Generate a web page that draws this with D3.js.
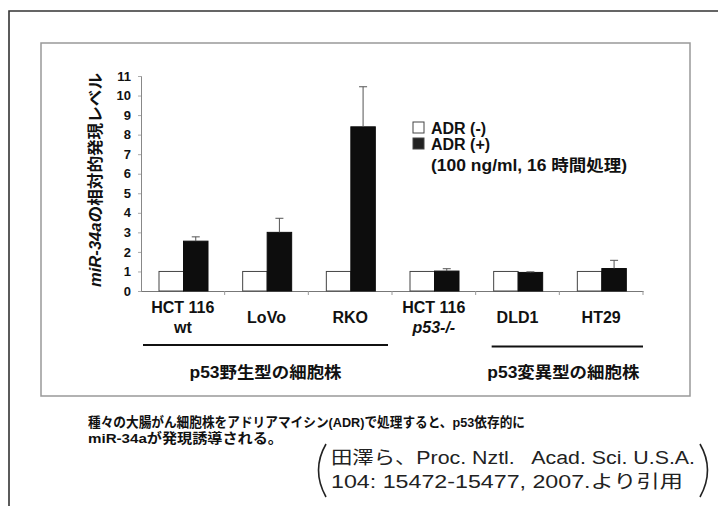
<!DOCTYPE html>
<html>
<head>
<meta charset="utf-8">
<script src="https://cdn.jsdelivr.net/npm/d3@7"></script>
<style>
  body { margin: 0; background: #fff; }
  text { font-family: "Liberation Sans", Arial, "Noto Sans CJK JP", sans-serif; }
</style>
</head>
<body>
<div id="chart"></div>
<script>
// cell lines (two-line labels) and the two treatment series
var labelTop = ["HCT 116", "LoVo", "RKO", "HCT 116", "DLD1", "HT29"];
var labelBottom = ["wt", "", "", "p53-/-", "", ""];
var series = ["ADR (-)", "ADR (+)"];
var adrMinus = [1, 1, 1, 1, 1, 1];
var adrPlus = [2.55, 3.0, 8.4, 1.02, 0.95, 1.15];
var adrPlusErr = [0.22, 0.72, 2.05, 0.12, 0.03, 0.42];
var yTicks = [0, 1, 2, 3, 4, 5, 6, 7, 8, 9, 10, 11];
var groupNames = ["p53野生型の細胞株", "p53変異型の細胞株"];
var groupFrom = [0, 4], groupTo = [2, 5];

var W = 718, H = 506;
var svg = d3.select("#chart").append("svg").attr("width", W).attr("height", H);

// frames
svg.append("path").attr("d", "M9,506V11H718").attr("fill", "none")
    .attr("stroke", "#333").attr("stroke-width", 1.6);
svg.append("rect").attr("x", 41).attr("y", 43).attr("width", 649).attr("height", 353)
    .attr("fill", "none").attr("stroke", "#999").attr("stroke-width", 1.5);

var x = d3.scaleBand().domain(d3.range(labelTop.length)).range([141, 643]);
var xs = d3.scaleBand().domain(series).range([18, 67]);
var y = d3.scaleLinear().domain([0, 11]).range([291, 76]);

var rows = labelTop.map(function(d, i) {
  return {i: i, vals: [adrMinus[i], adrPlus[i]], err: [0, adrPlusErr[i]]};
});

// axes
var yAxis = svg.append("g").attr("transform", "translate(141,0)")
    .call(d3.axisLeft(y).tickValues(yTicks).tickSize(3).tickPadding(7));
yAxis.select(".domain").attr("stroke", "#888");
yAxis.selectAll(".tick line").attr("stroke", "#aaa");
yAxis.selectAll(".tick text").attr("font-size", 13).attr("font-weight", "bold")
    .attr("fill", "#111").style("font-family", "'Liberation Sans', Arial, sans-serif");

var xAxis = svg.append("g").attr("transform", "translate(0,291)")
    .call(d3.axisBottom(x).tickValues([]).tickSizeOuter(0));
xAxis.select(".domain").attr("stroke", "#777").attr("stroke-width", 1.2);
xAxis.selectAll(".sep").data(d3.range(1, labelTop.length + 1)).enter().append("line")
    .attr("x1", function(d) { return x(d - 1) + x.bandwidth(); })
    .attr("x2", function(d) { return x(d - 1) + x.bandwidth(); })
    .attr("y1", 0).attr("y2", 4).attr("stroke", "#999");

// bars
var grp = svg.append("g").selectAll("g").data(rows).enter().append("g")
    .attr("transform", function(d) { return "translate(" + x(d.i) + ",0)"; });

grp.selectAll("rect").data(function(d) {
  return d.vals.map(function(v, k) { return {k: k, v: v, e: d.err[k]}; });
}).enter().append("rect")
    .attr("x", function(d) { return xs(series[d.k]); })
    .attr("y", function(d) { return y(d.v); })
    .attr("width", xs.bandwidth())
    .attr("height", function(d) { return y(0) - y(d.v); })
    .attr("fill", function(d) { return d.k ? "#0d0d0d" : "#fff"; })
    .attr("stroke", function(d) { return d.k ? "#0d0d0d" : "#444"; })
    .attr("stroke-width", 1);

// error bars on ADR(+)
var eb = grp.append("g").attr("stroke", "#555").attr("stroke-width", 1);
eb.append("line")
    .attr("x1", xs("ADR (+)") + xs.bandwidth() / 2).attr("x2", xs("ADR (+)") + xs.bandwidth() / 2)
    .attr("y1", function(d) { return y(d.vals[1]); })
    .attr("y2", function(d) { return y(d.vals[1] + d.err[1]); });
eb.append("line")
    .attr("x1", xs("ADR (+)") + xs.bandwidth() / 2 - 4).attr("x2", xs("ADR (+)") + xs.bandwidth() / 2 + 4)
    .attr("y1", function(d) { return y(d.vals[1] + d.err[1]); })
    .attr("y2", function(d) { return y(d.vals[1] + d.err[1]); });

// category labels
var cat = svg.append("g").attr("font-size", 16).attr("font-weight", "bold")
    .attr("text-anchor", "middle").attr("fill", "#111");
cat.selectAll(".l1").data(rows).enter().append("text")
    .attr("x", function(d) { return x(d.i) + x.bandwidth() / 2; })
    .attr("y", function(d) { return labelBottom[d.i] ? 313 : 323; })
    .text(function(d) { return labelTop[d.i]; });
cat.selectAll(".l2").data(rows.filter(function(d) { return labelBottom[d.i]; })).enter().append("text")
    .attr("x", function(d) { return x(d.i) + x.bandwidth() / 2; })
    .attr("y", 333)
    .attr("font-style", function(d) { return d.i === 3 ? "italic" : "normal"; })
    .text(function(d) { return labelBottom[d.i]; });

// group brackets and names
var lineFrom = [2, 16], lineTo = [-4, 0];
groupNames.forEach(function(name, g) {
  var x0 = x(groupFrom[g]), x1 = x(groupTo[g]) + x.bandwidth();
  svg.append("line").attr("x1", x0 + lineFrom[g]).attr("x2", x1 + lineTo[g])
      .attr("y1", 345 + g * 1.5).attr("y2", 345 + g * 1.5)
      .attr("stroke", "#111").attr("stroke-width", 2);
  svg.append("text").attr("x", (x0 + lineFrom[g] + x1 + lineTo[g]) / 2 + (g ? -4 : 0)).attr("y", 378)
      .attr("text-anchor", "middle").attr("font-size", 16).attr("font-weight", "bold")
      .attr("fill", "#111").attr("textLength", 152).attr("lengthAdjust", "spacingAndGlyphs")
      .text(name);
});

// y title
var yt = svg.append("text").attr("transform", "translate(101,180) rotate(-90)")
    .attr("text-anchor", "middle").attr("font-size", 16).attr("font-weight", "bold")
    .attr("fill", "#111").attr("textLength", 214).attr("lengthAdjust", "spacingAndGlyphs");
yt.append("tspan").attr("font-style", "italic").text("miR-34a");
yt.append("tspan").text("の相対的発現レベル");

// legend
var lg = svg.append("g").attr("font-size", 16).attr("font-weight", "bold").attr("fill", "#111");
lg.selectAll("rect").data(series).enter().append("rect")
    .attr("x", 413).attr("y", function(d, i) { return 122 + i * 16; })
    .attr("width", 11).attr("height", 11)
    .attr("fill", function(d, i) { return i ? "#222" : "#fff"; })
    .attr("stroke", "#444");
lg.selectAll("text").data(series).enter().append("text")
    .attr("x", 431).attr("y", function(d, i) { return 134 + i * 16; })
    .text(function(d) { return d; });
lg.append("text").attr("x", 431).attr("y", 171)
    .attr("textLength", 196).attr("lengthAdjust", "spacingAndGlyphs")
    .text("(100 ng/ml, 16 時間処理)");

// caption
var cap = svg.append("g").attr("font-size", 13.5).attr("font-weight", "bold").attr("fill", "#111");
cap.append("text").attr("x", 88).attr("y", 427)
    .attr("textLength", 437).attr("lengthAdjust", "spacingAndGlyphs")
    .text("種々の大腸がん細胞株をアドリアマイシン(ADR)で処理すると、p53依存的に");
cap.append("text").attr("x", 88).attr("y", 443)
    .attr("textLength", 195).attr("lengthAdjust", "spacingAndGlyphs")
    .text("miR-34aが発現誘導される。");

// citation
var cit = svg.append("g").attr("font-size", 18).attr("fill", "#222")
    .style("font-family", "'Noto Sans CJK JP', sans-serif");
cit.append("text").attr("x", 331).attr("y", 464).style("white-space", "pre")
    .attr("textLength", 364).attr("lengthAdjust", "spacingAndGlyphs")
    .text("田澤ら、Proc. Nztl.   Acad. Sci. U.S.A.");
cit.append("text").attr("x", 331).attr("y", 488)
    .attr("textLength", 352).attr("lengthAdjust", "spacingAndGlyphs")
    .text("104: 15472-15477, 2007.より引用");
cit.append("path").attr("d", "M326,444Q311,470 326,497").attr("fill", "none")
    .attr("stroke", "#222").attr("stroke-width", 1.6);
cit.append("path").attr("d", "M700,444Q715,470 700,497").attr("fill", "none")
    .attr("stroke", "#222").attr("stroke-width", 1.6);
</script>
</body>
</html>
